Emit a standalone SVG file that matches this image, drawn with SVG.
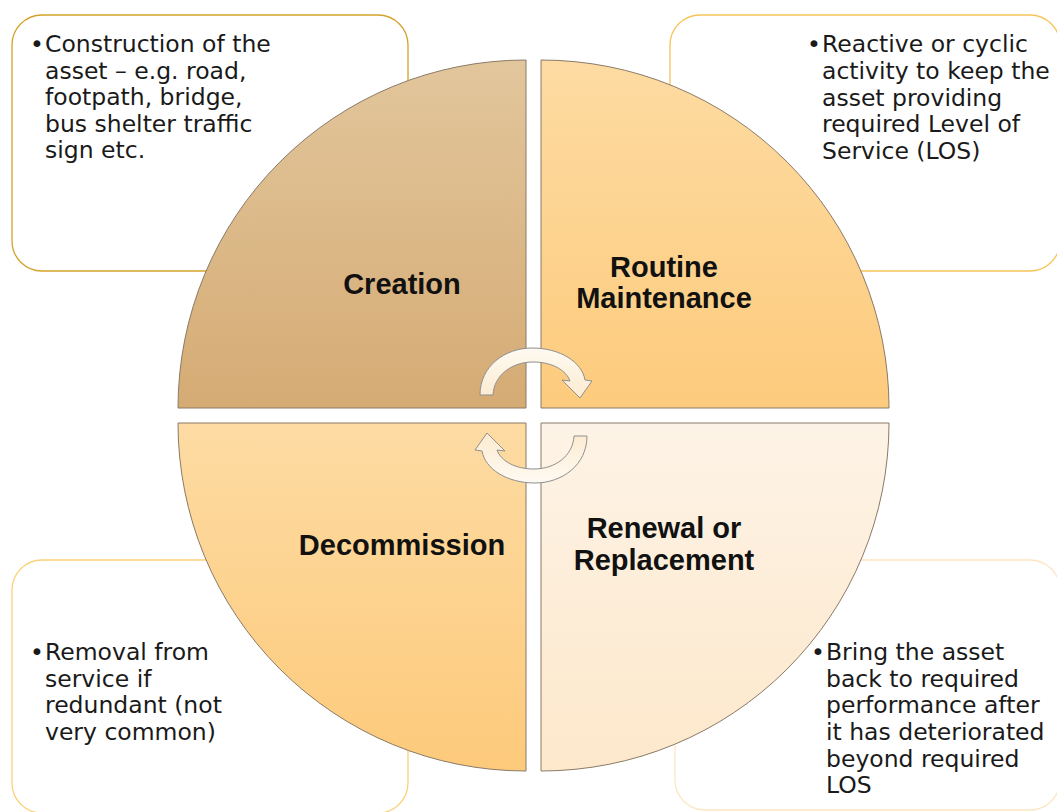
<svg xmlns="http://www.w3.org/2000/svg" width="1057" height="812" viewBox="0 0 1057 812">
<defs>
<linearGradient id="gTL" x1="0" y1="0" x2="0" y2="1"><stop offset="0" stop-color="#e2c69c"/><stop offset="1" stop-color="#d5ab74"/></linearGradient>
<linearGradient id="gTR" x1="0" y1="0" x2="0" y2="1"><stop offset="0" stop-color="#fddba2"/><stop offset="1" stop-color="#fdcb7d"/></linearGradient>
<linearGradient id="gBL" x1="0" y1="0" x2="0" y2="1"><stop offset="0" stop-color="#fddba3"/><stop offset="1" stop-color="#fdca7b"/></linearGradient>
<linearGradient id="gBR" x1="0" y1="0" x2="0" y2="1"><stop offset="0" stop-color="#fdf3e6"/><stop offset="1" stop-color="#fde8cb"/></linearGradient>
<linearGradient id="gAr" x1="0" y1="0" x2="0" y2="1"><stop offset="0" stop-color="#fefaf2"/><stop offset="1" stop-color="#fcebd0"/></linearGradient>
</defs>
<style>
.box{fill:#ffffff;stroke-width:1.3}
.t{font-family:"DejaVu Sans",sans-serif;font-size:23.5px;fill:#1a1a1a}
.q{stroke:#8a7a66;stroke-width:1}
.lbl{font-family:"Liberation Sans",Arial,sans-serif;font-weight:bold;font-size:29px;fill:#111;text-anchor:middle}
.ar{fill:url(#gAr);stroke:#8f8f8f;stroke-width:1}
</style>
<rect width="1057" height="812" fill="#ffffff"/>

<g id="box-creation">
<rect class="box" x="12" y="15" width="396" height="256" rx="30" stroke="#d4a22a"/>
<text class="t"><tspan x="30" y="52">•</tspan><tspan x="45" y="52">Construction of the</tspan><tspan x="45" y="79">asset – e.g. road,</tspan><tspan x="45" y="105">footpath, bridge,</tspan><tspan x="45" y="132">bus shelter traffic</tspan><tspan x="45" y="158">sign etc.</tspan></text>
</g>
<g id="box-routine">
<rect class="box" x="670" y="15" width="390" height="256" rx="30" stroke="#f7c45a"/>
<text class="t"><tspan x="807" y="52">•</tspan><tspan x="822" y="52">Reactive or cyclic</tspan><tspan x="822" y="79">activity to keep the</tspan><tspan x="822" y="106">asset providing</tspan><tspan x="822" y="132">required Level of</tspan><tspan x="822" y="159">Service (LOS)</tspan></text>
</g>
<g id="box-decommission">
<rect class="box" x="12" y="560" width="396" height="253" rx="30" stroke="#fcd07a"/>
<text class="t"><tspan x="30" y="660">•</tspan><tspan x="45" y="660">Removal from</tspan><tspan x="45" y="687">service if</tspan><tspan x="45" y="713">redundant (not</tspan><tspan x="45" y="740">very common)</tspan></text>
</g>
<g id="box-renewal">
<rect class="box" x="675" y="560" width="385" height="250" rx="30" stroke="#fde6c4"/>
<text class="t"><tspan x="811" y="660">•</tspan><tspan x="826" y="660">Bring the asset</tspan><tspan x="826" y="687">back to required</tspan><tspan x="826" y="713">performance after</tspan><tspan x="826" y="740">it has deteriorated</tspan><tspan x="826" y="767">beyond required</tspan><tspan x="826" y="793">LOS</tspan></text>
</g>

<g id="creation">
<path class="q" d="M526,408 L178,408 A348,348 0 0 1 526,60 Z" fill="url(#gTL)"/>
<text class="lbl" x="402" y="294">Creation</text>
</g>
<g id="routine-maintenance">
<path class="q" d="M541,408 L541,60 A348,348 0 0 1 889,408 Z" fill="url(#gTR)"/>
<text class="lbl" x="664" y="277">Routine</text>
<text class="lbl" x="664" y="308">Maintenance</text>
</g>
<g id="decommission">
<path class="q" d="M526,423 L526,771 A348,348 0 0 1 178,423 Z" fill="url(#gBL)"/>
<text class="lbl" x="402" y="555">Decommission</text>
</g>
<g id="renewal-replacement">
<path class="q" d="M541,423 L889,423 A348,348 0 0 1 541,771 Z" fill="url(#gBR)"/>
<text class="lbl" x="664" y="538">Renewal or</text>
<text class="lbl" x="664" y="570">Replacement</text>
</g>

<g id="connectors">
<path class="ar" d="M480,395 C480,366 505,348 532,348 C560,348 582,362 585,380 L592,381 L580,398 L562,380 L570,381 C566,370 552,362 533,362 C512,362 494,375 493,395 Z"/>
<path class="ar" transform="rotate(180 533.5 415.5)" d="M480,395 C480,366 505,348 532,348 C560,348 582,362 585,380 L592,381 L580,398 L562,380 L570,381 C566,370 552,362 533,362 C512,362 494,375 493,395 Z"/>
</g>
</svg>
